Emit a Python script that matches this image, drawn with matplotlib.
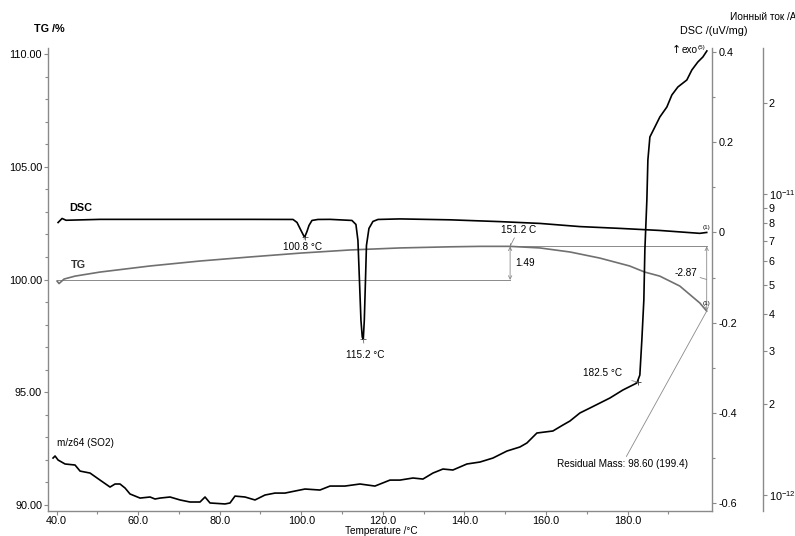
import matplotlib
matplotlib.use("Agg")
import matplotlib.pyplot as plt
from matplotlib.ticker import FixedLocator, FixedFormatter, NullLocator

plt.rcParams['font.family'] = ['Liberation Sans', 'DejaVu Sans']
plt.rcParams['mathtext.default'] = 'regular'

# TG curve: temperature (C) and mass (%)
tg_temp = [40.12, 40.61, 41.84, 44.53, 50.66, 62.92, 75.17, 87.43, 99.68, 111.94,
           124.19, 136.45, 143.8, 151.2, 158.5, 165.9, 173.2, 180.5, 184.2, 187.9,
           192.8, 197.7, 199.4]
tg_mass = [99.93, 99.82, 100.02, 100.15, 100.33, 100.60, 100.82, 101.00, 101.17, 101.31,
           101.40, 101.45, 101.47, 101.47, 101.40, 101.22, 100.95, 100.60, 100.33, 100.15,
           99.71, 98.96, 98.60]

# DSC curve: temperature (C) and heat flow (uV/mg)
dsc_temp = [40.37, 41.35, 42.33, 50.66, 62.92, 75.17, 87.43, 97.97, 98.95, 99.93,
            100.8, 101.40, 101.89, 102.62, 104.09, 107.04, 112.42, 113.40, 113.89, 114.26,
            114.63, 114.95, 115.2, 115.45, 115.74, 115.98, 116.59, 117.57, 118.8, 124.19,
            136.45, 148.7, 158.5, 168.3, 178.1, 187.9, 197.7, 199.4]
dsc_val = [0.022, 0.031, 0.027, 0.029, 0.029, 0.029, 0.029, 0.0288, 0.0222, 0.0044,
           -0.011, 0.0022, 0.0155, 0.0266, 0.0288, 0.029, 0.0266, 0.0177, -0.0177, -0.106,
           -0.195, -0.232, -0.237, -0.195, -0.106, -0.0288, 0.0089, 0.0244, 0.0288, 0.030,
           0.028, 0.024, 0.020, 0.013, 0.009, 0.0044, -0.002, 0.0]

# ion current m/z 64: temperature (C) and current (A)
ms_temp = [39.14, 39.63, 40.37, 42.08, 44.53, 45.76, 48.21, 50.66, 53.11, 54.34,
           55.56, 56.79, 58.01, 60.47, 62.92, 64.14, 65.37, 67.82, 70.27, 72.72,
           75.17, 76.40, 77.62, 81.30, 82.52, 83.75, 86.20, 88.65, 91.10, 93.55,
           96.00, 98.46, 100.91, 104.58, 107.04, 110.71, 114.39, 118.06, 121.74, 124.19,
           127.38, 129.83, 132.28, 134.73, 137.18, 140.61, 143.80, 146.99, 150.42, 153.60,
           155.32, 157.77, 161.69, 164.14, 165.86, 168.31, 170.76, 173.21, 175.66, 178.85,
           182.28, 183.01, 183.50, 183.99, 184.24, 184.73, 184.98, 185.47, 186.70, 187.92,
           189.63, 190.86, 192.33, 194.53, 195.76, 197.23, 198.46, 199.44]
ms_current = [1.327, 1.348, 1.307, 1.268, 1.258, 1.201, 1.183, 1.121, 1.063, 1.088,
              1.088, 1.055, 1.008, 0.977, 0.985, 0.970, 0.977, 0.985, 0.963, 0.948,
              0.948, 0.985, 0.941, 0.934, 0.941, 0.992, 0.985, 0.963, 1.000, 1.015,
              1.015, 1.031, 1.047, 1.039, 1.071, 1.071, 1.088, 1.071, 1.121, 1.121,
              1.139, 1.130, 1.183, 1.220, 1.211, 1.268, 1.287, 1.327, 1.400, 1.444,
              1.489, 1.607, 1.632, 1.708, 1.761, 1.873, 1.945, 2.021, 2.100, 2.233,
              2.356, 2.504, 3.273, 4.445, 6.516, 9.552, 12.97, 15.47, 16.70, 18.03,
              19.45, 21.33, 22.67, 23.92, 25.82, 27.45, 28.52, 29.87]
ms_current = [v * 1e-12 for v in ms_current]

# evaluated points
peak1_t, peak1_v = 100.8, -0.011
peak2_t, peak2_v = 115.2, -0.237
onset_t, onset_i = 182.5, 2.37e-12
tg_start_level = 99.98
tg_max_t, tg_max_mass = 151.2, 101.47
tg_end_t, tg_end_mass = 199.4, 98.60

# axis ticks
x_ticks = [40, 60, 80, 100, 120, 140, 160, 180]
x_labels = ['40.0', '60.0', '80.0', '100.0', '120.0', '140.0', '160.0', '180.0']
x_minor = [50, 70, 90, 110, 130, 150, 170, 190]
tg_ticks = [90, 95, 100, 105, 110]
tg_labels = ['90.00', '95.00', '100.00', '105.00', '110.00']
tg_minor = [91, 92, 93, 94, 96, 97, 98, 99, 101, 102, 103, 104, 106, 107, 108, 109]
dsc_ticks = [-0.6, -0.4, -0.2, 0.0, 0.2, 0.4]
dsc_labels = ['-0.6', '-0.4', '-0.2', '0', '0.2', '0.4']
dsc_minor = [-0.5, -0.3, -0.1, 0.1, 0.3]
ms_ticks = [1e-12, 2e-12, 3e-12, 4e-12, 5e-12, 6e-12, 7e-12, 8e-12, 9e-12, 1e-11, 2e-11]
ms_labels = ['$10^{-12}$', '2', '3', '4', '5', '6', '7', '8', '9', '$10^{-11}$', '2']

W, H = 795, 536
GRAY = '#8a8a8a'
FS = 7.8
FS_NOTE = 7.2

fig = plt.figure(figsize=(W / 100, H / 100), dpi=100)
ax = fig.add_axes([48 / W, 1 - 511 / H, 664 / W, 463 / H])
ax_dsc = ax.twinx()
ax_ms = ax.twinx()

for a in (ax, ax_dsc, ax_ms):
    for s in a.spines.values():
        s.set_visible(False)
    a.tick_params(colors=GRAY, labelcolor='black', labelsize=FS, length=2.8, width=0.8)
    a.tick_params(which='minor', colors=GRAY, length=2.0, width=0.8)

ax.spines['left'].set_visible(True)
ax.spines['bottom'].set_visible(True)
ax_dsc.spines['right'].set_visible(True)
ax_ms.spines['right'].set_visible(True)
ax_ms.spines['right'].set_position(('axes', (763 - 48) / 664))
for s in (ax.spines['left'], ax.spines['bottom'], ax_dsc.spines['right'], ax_ms.spines['right']):
    s.set_color(GRAY)
    s.set_linewidth(1.0)

ax.set_xlim(37.9, 200.7)
ax.set_ylim(89.73, 110.27)
ax_dsc.set_ylim(-0.6177, 0.409)
ax_ms.set_yscale('log')
ax_ms.set_ylim(0.885e-12, 30.55e-12)

ax.xaxis.set_major_locator(FixedLocator(x_ticks))
ax.xaxis.set_major_formatter(FixedFormatter(x_labels))
ax.xaxis.set_minor_locator(FixedLocator(x_minor))
ax.yaxis.set_major_locator(FixedLocator(tg_ticks))
ax.yaxis.set_major_formatter(FixedFormatter(tg_labels))
ax.yaxis.set_minor_locator(FixedLocator(tg_minor))
ax.tick_params(axis='x', pad=0.8)
ax.tick_params(axis='y', pad=1.5)

ax_dsc.yaxis.set_major_locator(FixedLocator(dsc_ticks))
ax_dsc.yaxis.set_major_formatter(FixedFormatter(dsc_labels))
ax_dsc.yaxis.set_minor_locator(FixedLocator(dsc_minor))
ax_dsc.tick_params(axis='y', pad=2)

ax_ms.yaxis.set_major_locator(FixedLocator(ms_ticks))
ax_ms.yaxis.set_major_formatter(FixedFormatter(ms_labels))
ax_ms.yaxis.set_minor_locator(NullLocator())
ax_ms.tick_params(axis='y', pad=1.2)

# curves
ax.plot(tg_temp, tg_mass, color='#707070', lw=1.2, zorder=3)
ax_dsc.plot(dsc_temp, dsc_val, color='black', lw=1.2, zorder=3)
ax_ms.plot(ms_temp, ms_current, color='black', lw=1.2, zorder=3)

# mass step construction
thin = dict(color=GRAY, lw=0.7)
ax.plot([tg_temp[0], tg_max_t], [tg_start_level, tg_start_level], **thin)
ax.plot([tg_max_t, tg_end_t], [tg_max_mass, tg_max_mass], **thin)
arrow = dict(arrowstyle='<->', color=GRAY, lw=0.6, shrinkA=0, shrinkB=0, mutation_scale=6)
ax.annotate('', xy=(tg_max_t, tg_max_mass), xytext=(tg_max_t, tg_start_level), arrowprops=arrow)
ax.annotate('', xy=(tg_end_t, tg_max_mass), xytext=(tg_end_t, tg_end_mass), arrowprops=arrow)
ax.plot([tg_max_t], [tg_max_mass], marker='+', ms=5, color='#555555', mew=0.6)

leader = dict(arrowstyle='-', color=GRAY, lw=0.6, shrinkA=0, shrinkB=0)
ax.text(tg_max_t + 1.2, (tg_max_mass + tg_start_level) / 2, f'{tg_max_mass - tg_start_level:.2f}',
        fontsize=FS_NOTE, va='center', ha='left')
ax.annotate(f'{tg_max_t} C', xy=(tg_max_t, tg_max_mass), xytext=(tg_max_t + 2.0, tg_max_mass + 0.5),
            fontsize=FS_NOTE, ha='center', va='bottom', arrowprops=leader)
ax.annotate(f'{tg_end_mass - tg_max_mass:.2f}', xy=(tg_end_t, 100.0), xytext=(tg_end_t - 2.3, 100.05),
            fontsize=FS_NOTE, ha='right', va='bottom', arrowprops=leader)
ax.annotate(f'Residual Mass: {tg_end_mass:.2f} ({tg_end_t})', xy=(tg_end_t, tg_end_mass),
            xytext=(194.7, 91.8), fontsize=FS_NOTE, ha='right', va='center', arrowprops=leader)

# DSC peaks
ax_dsc.plot([peak1_t, peak2_t], [peak1_v, peak2_v], ls='none', marker='+', ms=5, color='#555555', mew=0.6)
ax_dsc.annotate(f'{peak1_t} °C', xy=(peak1_t, peak1_v), xytext=(peak1_t - 0.6, peak1_v - 0.022),
                fontsize=FS_NOTE, ha='center', va='center',
                arrowprops=dict(leader, shrinkA=3))
ax_dsc.annotate(f'{peak2_t} °C', xy=(peak2_t, peak2_v), xytext=(peak2_t + 0.5, peak2_v - 0.035),
                fontsize=FS_NOTE, ha='center', va='center',
                arrowprops=dict(leader, shrinkA=3))

# onset of the ion current
ax_ms.plot([onset_t], [onset_i], marker='+', ms=5, color='#333333', mew=0.6)
ax_ms.annotate(f'{onset_t} °C', xy=(onset_t, onset_i), xytext=(173.9, 2.55e-12),
               fontsize=FS_NOTE, ha='center', va='center',
               arrowprops=dict(leader, shrinkA=5))

# curve end markers
ax_dsc.text(199.3, 0.012, '(1)', fontsize=4.5, ha='center', va='center')
ax.text(199.3, 98.95, '(1)', fontsize=4.5, ha='center', va='center')

# curve names
fig.text(69 / W, 1 - 208 / H, 'DSC', fontsize=FS, fontweight='bold', va='center')
fig.text(71 / W, 1 - 265 / H, 'TG', fontsize=FS, fontweight='bold', va='center', color='#333333')
fig.text(57 / W, 1 - 443 / H, 'm/z64 (SO2)', fontsize=FS_NOTE, va='center')

# axis titles
fig.text(680 / W, 1 - 31 / H, 'DSC /(uV/mg)', fontsize=FS, va='center')
fig.text(34 / W, 1 - 29 / H, 'TG /%', fontsize=FS, fontweight='bold', va='center')
fig.text(672 / W, 1 - 50 / H, '↑', fontsize=FS, va='center', family='DejaVu Sans')
fig.text(682 / W, 1 - 50 / H, 'exo', fontsize=FS_NOTE, va='center')
fig.text(698 / W, 1 - 48 / H, '(5)', fontsize=4.5, va='center')
fig.text(730 / W, 1 - 17 / H, 'Ионный ток /A', fontsize=7.2, va='center')
fig.text(345 / W, 1 - 531 / H, 'Temperature /°C', fontsize=FS_NOTE, va='center')

fig.savefig('out.png', dpi=100)
